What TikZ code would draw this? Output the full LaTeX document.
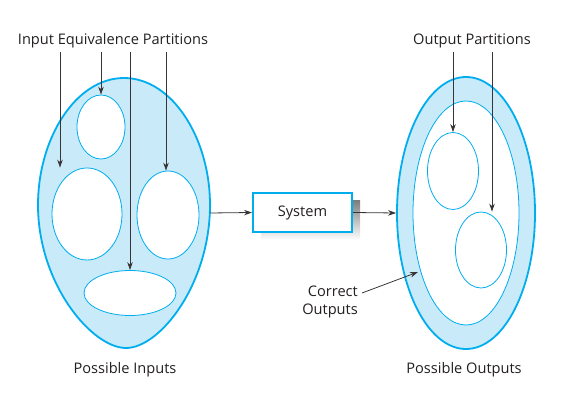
\documentclass[tikz,border=0pt]{standalone}
\usepackage{fontspec}
\setmainfont{Open Sans}
\usetikzlibrary{shapes.geometric,arrows.meta}
\definecolor{rim}{HTML}{00AEEF}
\definecolor{pale}{HTML}{C8EAF9}
\definecolor{shade}{HTML}{74D1F6}
\definecolor{ink}{HTML}{231F20}
\begin{document}
\begin{tikzpicture}[x=1pt,y=-1pt,
  lbl/.style={font=\fontsize{14.6}{18}\selectfont, text=ink, inner sep=0pt},
  part/.style={ellipse, draw=rim, fill=white, line width=0.8pt, inner sep=0pt},
  ptr/.style={draw=ink!90, line width=0.8pt, -{Stealth[length=8pt,width=5.5pt]}},
  sysbox/.style={draw=rim, line width=2pt, fill=white, minimum width=99pt, minimum height=39pt, inner sep=0pt}]
\useasboundingbox (0,0) rectangle (584,403);

% input domain: egg-shaped region
\path[draw=rim, fill=pale, line width=1.8pt]
  (124,78) .. controls (172,78) and (210,138) .. (210,205)
  .. controls (210,284) and (160,348) .. (126,348)
  .. controls (92,348) and (38,284) .. (38,205)
  .. controls (38,138) and (76,78) .. (124,78);

% input partitions
\node[part, minimum width=48pt, minimum height=64pt] (ip1) at (101,127) {};
\node[part, minimum width=70pt, minimum height=92pt] (ip2) at (87,214) {};
\node[part, minimum width=62pt, minimum height=88pt] (ip3) at (168,215) {};
\node[part, minimum width=92pt, minimum height=45pt] (ip4) at (130,293) {};

% output domain
\node[ellipse, draw=rim, fill=pale, line width=1.8pt, inner sep=0pt,
      minimum width=138pt, minimum height=272pt] (outer) at (466,213) {};
\node[part, minimum width=106pt, minimum height=224pt] (correct) at (466,213) {};
\node[part, minimum width=51pt, minimum height=77pt] (op1) at (453,171) {};
\node[part, minimum width=51pt, minimum height=76pt] (op2) at (481,250) {};

% system box with offset shadow
\fill[shade] (261,201) rectangle (360,240);
\node[sysbox] (sys) at (302.5,212.5) {};
\node[lbl] (syslbl) at (302.5,213) {System};

% labels
\node[lbl] (inlbl) at (113,41) {Input Equivalence Partitions};
\node[lbl] (outlbl) at (472,41) {Output Partitions};
\node[lbl] (pin) at (125,370) {Possible Inputs};
\node[lbl] (pout) at (464,370) {Possible Outputs};
\node[lbl, align=right, anchor=east] (corr) at (358,302) {Correct\\Outputs};

% pointer origins
\coordinate (a1) at (60,52);
\coordinate (a2) at (101,52);
\coordinate (a3) at (130,52);
\coordinate (a4) at (166,52);
\coordinate (b1) at (453,52);
\coordinate (b2) at (492,52);
\coordinate (inR) at (210,213);
\coordinate (c1) at (362,293);
\coordinate (c2) at (418,272);

\draw[ptr] (a1) -- (a1 |- ip2.north);
\draw[ptr] (a2) -- (ip1.north);
\draw[ptr] (a3) -- (a3 |- ip4.north);
\draw[ptr] (a4) -- (a4 |- ip3.north);
\draw[ptr] (b1) -- (op1.north);
\draw[ptr] (b2) -- (b2 |- op2.north);
\draw[ptr] (inR) -- (sys.west);
\draw[ptr] (sys.east) -- (outer.west);
\draw[ptr] (c1) -- (c2);
\end{tikzpicture}
\end{document}
